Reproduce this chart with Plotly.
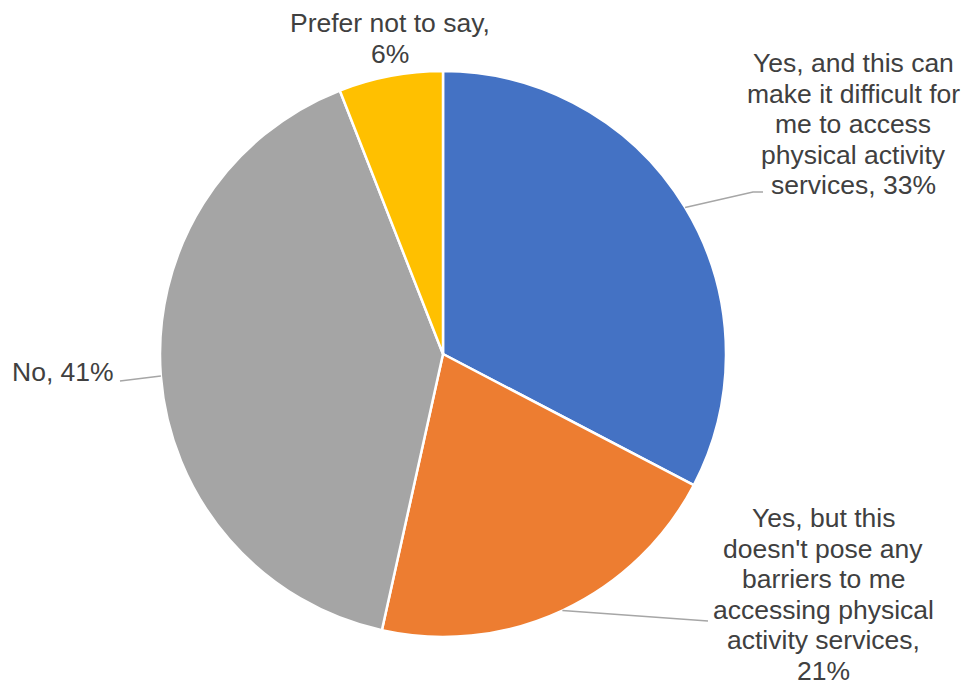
import math
import plotly.graph_objects as go

labels = [
    "Yes, and this can make it difficult for me to access physical activity services",
    "Yes, but this doesn't pose any barriers to me accessing physical activity services",
    "No",
    "Prefer not to say",
]
values = [33, 21, 41, 6]
colors = ["#4472C4", "#ED7D31", "#A5A5A5", "#FFC000"]
label_lines = [
    ["Yes, and this can", "make it difficult for", "me to access", "physical activity", "services, 33%"],
    ["Yes, but this", "doesn't pose any", "barriers to me", "accessing physical", "activity services,", "21%"],
    ["No, 41%"],
    ["Prefer not to say,", "6%"],
]

W, H = 966, 685
CX, CY, R = 443, 354, 283
LINE_H = 30.6
FONT = dict(family="Liberation Sans, Arial, sans-serif", size=26.5, color="#404040")

# label anchors (pixel layout positions): x, y of first line centre, alignment
label_pos = [(853, 63, "center"), (823, 518, "center"), (116, 372, "right"), (390, 23, "center")]
# leader line end points (layout), None for no leader
leader_end = [[(753, 192), (763, 192)], [(708, 621)], [(120, 381)], None]

def px(x):
    return x / W

def py(y):
    return 1 - y / H

fig = go.Figure(go.Pie(
    labels=labels,
    values=values,
    sort=False,
    direction="clockwise",
    rotation=0,
    marker=dict(colors=colors, line=dict(color="white", width=2.5)),
    textinfo="none",
    hoverinfo="label+percent",
    showlegend=False,
    domain=dict(x=[px(CX - R), px(CX + R)], y=[py(CY + R), py(CY - R)]),
))

total = sum(values)
cum = 0
shapes = []
annotations = []
for i, v in enumerate(values):
    mid = (cum + v / 2) / total * 2 * math.pi
    cum += v
    sx = CX + R * math.sin(mid)
    sy = CY - R * math.cos(mid)
    if leader_end[i]:
        pts = [(sx, sy)] + leader_end[i]
        path = "M " + " L ".join(f"{px(a):.5f},{py(b):.5f}" for a, b in pts)
        shapes.append(dict(type="path", xref="paper", yref="paper", path=path,
                           line=dict(color="#A6A6A6", width=1.5)))
    lx, ly, anchor = label_pos[i]
    for k, line in enumerate(label_lines[i]):
        annotations.append(dict(
            x=px(lx), y=py(ly + k * LINE_H), xref="paper", yref="paper",
            text=line, showarrow=False,
            xanchor=anchor, yanchor="middle", align="center",
            font=FONT,
        ))

fig.update_layout(
    width=W, height=H,
    margin=dict(l=0, r=0, t=0, b=0),
    paper_bgcolor="white",
    plot_bgcolor="white",
    shapes=shapes,
    annotations=annotations,
)

fig.write_html(
    "out.html",
    config={"displayModeBar": False},
    post_script="document.body.style.margin='0px';document.body.style.overflow='hidden';",
)
